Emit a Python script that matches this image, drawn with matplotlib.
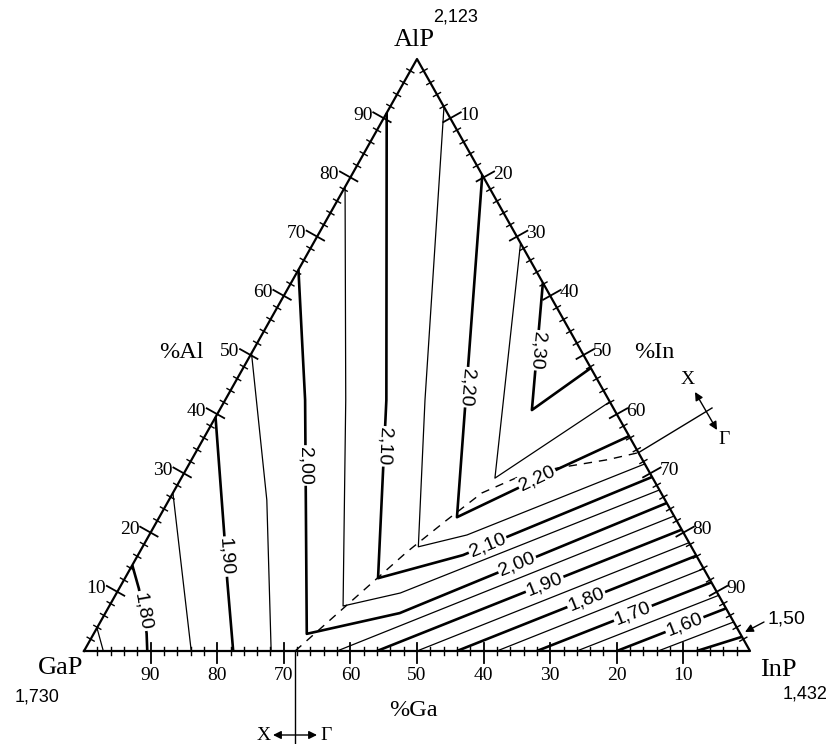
import matplotlib
matplotlib.use("Agg")
import matplotlib.pyplot as plt
import numpy as np

SERIF = "Liberation Serif"
SANS = "Liberation Sans"

# corners of the triangle and their band gaps (eV)
CORNERS = ["GaP", "InP", "AlP"]
CORNER_GAPS = ["1,730", "1,432", "2,123"]

TICKS = list(range(2, 100, 2))
MAJOR = list(range(10, 100, 10))

# contour lines, points are (%Al, %In), %Ga is the rest
# X-valley lines
x175 = [(3.9, 0), (0, 2.9)]
x180 = [(14.5, 0), (10.5, 3.0), (3.0, 7.9), (0, 9.5)]
x185 = [(26.7, 0), (0, 16.1)]
x190 = [(39.5, 0), (19.9, 11.1), (12.0, 15.5), (0, 22.4)]
x195 = [(50.3, 0), (25.5, 14.7), (0, 28.1)]
x225 = [(68.9, 31.1), (29.2, 47.1), (42.1, 57.9)]
x230 = [(62.2, 37.8), (40.7, 46.9), (47.8, 52.2)]
# lines that bend at the X-Gamma crossover
k200 = [(64.4, 0), (42.4, 12.0), (2.9, 32.0), (6.4, 44.2), (25.0, 75.0)]
k205 = [(78.4, 0), (42.4, 18.1), (7.6, 35.1), (9.8, 42.6), (27.2, 72.8)]
k210 = [(90.9, 0), (42.4, 24.2), (12.3, 38.0), (16.2, 48.8), (29.4, 70.6)]
k215 = [(91.9, 8.1), (42.4, 30.0), (17.6, 41.4), (19.6, 47.7), (31.6, 68.4)]
k220 = [(80.4, 19.6), (22.6, 44.7), (30.9, 56.0), (36.3, 63.7)]
# Gamma-valley lines
g150 = [(0, 92.0), (2.4, 97.6)]
g155 = [(0, 86.2), (4.9, 95.1)]
g160 = [(0, 80.0), (7.2, 92.8)]
g165 = [(0, 74.0), (9.4, 90.6)]
g170 = [(0, 68.0), (11.6, 88.4)]
g175 = [(0, 62.0), (13.9, 86.1)]
g180 = [(0, 56.0), (16.1, 83.9)]
g185 = [(0, 50.0), (18.3, 81.7)]
g190 = [(0, 44.0), (20.5, 79.5)]
g195 = [(0, 38.0), (22.8, 77.2)]

# X-Gamma crossover (dashed)
crossover = [(0, 31.7), (16.7, 40.1), (22.1, 43.4), (26.7, 46.4), (29.4, 50.5),
             (30.9, 55.6), (32.3, 62.4), (33.5, 66.5)]

thick = [x180, x190, x230, k200, k210, k220, g150, g160, g170, g180, g190]
thin = [x175, x185, x195, x225, k205, k215, g155, g165, g175, g185, g195]

# label: line, text, segment, position along segment
labels = [
    (x180, "1,80", 1, 0.5), (x190, "1,90", 1, 0.5), (k200, "2,00", 1, 0.28),
    (k210, "2,10", 1, 0.26), (k220, "2,20", 0, 0.62), (x230, "2,30", 0, 0.53),
    (k220, "2,20", 1, 0.78), (k210, "2,10", 3, 0.13), (k200, "2,00", 3, 0.44),
    (g190, "1,90", 0, 0.55), (g180, "1,80", 0, 0.54), (g170, "1,70", 0, 0.55),
    (g160, "1,60", 0, 0.62),
]

fig = plt.figure(figsize=(8.31, 7.44), dpi=100)
ax = fig.add_axes([0, 0, 1, 1])
# GaP corner at pixel (84,651), base 666 px wide, 592 px high
X0, Y0, W, H = 84, 651, 666, 592
ax.set_xlim(-X0 / W, (831 - X0) / W)
ax.set_ylim((Y0 - 744) / H, Y0 / H)
ax.axis("off")


def tern(al, inn):
    return inn / 100 + al / 200, al / 100


def px(x, y):  # pixel from top-left of the picture -> data
    return (x - X0) / W, (Y0 - y) / H


def shift(p, dx, dy):  # move by screen pixels (dy down)
    return p[0] + dx / W, p[1] - dy / H


def draw(pts, **kw):
    xy = np.array([tern(a, i) for a, i in pts])
    ax.plot(xy[:, 0], xy[:, 1], color="k", solid_capstyle="butt", **kw)


# triangle
tri = [tern(0, 0), tern(0, 100), tern(100, 0), tern(0, 0)]
ax.plot([p[0] for p in tri], [p[1] for p in tri], color="k", lw=1.6, zorder=4)

# ticks and tick labels
edges = [
    (lambda k: tern(k, 0), (-0.872, -0.490), (-21, -3)),        # %Al
    (lambda k: tern(100 - k, k), (0.872, -0.490), (19, -3)),    # %In
    (lambda k: tern(0, 100 - k), (0, 1), (0, 25)),              # %Ga
]
for point_of, nrm, off in edges:
    for k in TICKS:
        p = point_of(k)
        out, inn = (12, 8) if k in MAJOR else (4, 4)
        a = shift(p, nrm[0] * out, nrm[1] * out)
        b = shift(p, -nrm[0] * inn, -nrm[1] * inn)
        ax.plot([a[0], b[0]], [a[1], b[1]], color="k",
                lw=1.3 if k in MAJOR else 1.0, zorder=4)
        if k in MAJOR:
            q = shift(p, *off)
            ax.text(q[0], q[1], str(k), ha="center", va="center",
                    fontsize=14, family=SERIF)

for pts in thick:
    draw(pts, lw=1.9)
for pts in thin:
    draw(pts, lw=0.9)
draw(crossover, lw=1.0, ls=(0, (6, 5)))


def line_label(pts, text, seg, t):
    p0 = np.array(tern(*pts[seg]))
    p1 = np.array(tern(*pts[seg + 1]))
    pos = p0 + t * (p1 - p0)
    d0, d1 = ax.transData.transform([p0, p1])
    ang = np.degrees(np.arctan2(d1[1] - d0[1], d1[0] - d0[0]))
    ax.text(pos[0], pos[1], text, rotation=ang, rotation_mode="anchor",
            ha="center", va="center", fontsize=14, family=SANS,
            bbox=dict(fc="white", ec="none", pad=1.0), zorder=5)


for pts, text, seg, t in labels:
    line_label(pts, text, seg, t)

# corner names and gaps
for name, gap, p, g in zip(CORNERS, CORNER_GAPS,
                           [(61, 668), (778, 670), (414, 40)],
                           [(37, 697), (805, 694), (456, 17)]):
    ax.text(*px(*p), name, ha="center", va="center", fontsize=19, family=SERIF)
    ax.text(*px(*g), gap, ha="center", va="center", fontsize=13, family=SANS)

for name, p in [("%Al", (181, 353)), ("%In", (654, 353)), ("%Ga", (413, 711))]:
    ax.text(*px(*p), name, ha="center", va="center", fontsize=17.5, family=SERIF)

# X / Gamma annotations
end = tern(*crossover[-1])
ax.plot([end[0], px(712, 408)[0]], [end[1], px(712, 408)[1]], color="k", lw=1.0)
ax.annotate("", xy=px(695, 392), xytext=px(717, 430),
            arrowprops=dict(arrowstyle="<|-|>", color="k", lw=1.0,
                            mutation_scale=12, shrinkA=0, shrinkB=0))
ax.text(*px(688, 379), "X", ha="center", va="center", fontsize=14, family=SERIF)
ax.text(*px(724, 440), "Γ", ha="center", va="center", fontsize=14, family=SERIF)

start = tern(*crossover[0])
ax.plot([start[0], start[0]], [start[1], px(0, 744)[1]], color="k", lw=1.0)
ax.annotate("", xy=px(273, 735), xytext=px(317, 735),
            arrowprops=dict(arrowstyle="<|-|>", color="k", lw=1.0,
                            mutation_scale=12, shrinkA=0, shrinkB=0))
ax.text(*px(264, 735), "X", ha="center", va="center", fontsize=14, family=SERIF)
ax.text(*px(326, 735), "Γ", ha="center", va="center", fontsize=14, family=SERIF)

# 1,50 pointer
ax.annotate("", xy=px(745, 632), xytext=px(764, 622),
            arrowprops=dict(arrowstyle="-|>", color="k", lw=1.0,
                            mutation_scale=12, shrinkA=0, shrinkB=0))
ax.text(*px(786, 619), "1,50", ha="center", va="center", fontsize=14, family=SANS)

fig.savefig("out.png", dpi=100)
